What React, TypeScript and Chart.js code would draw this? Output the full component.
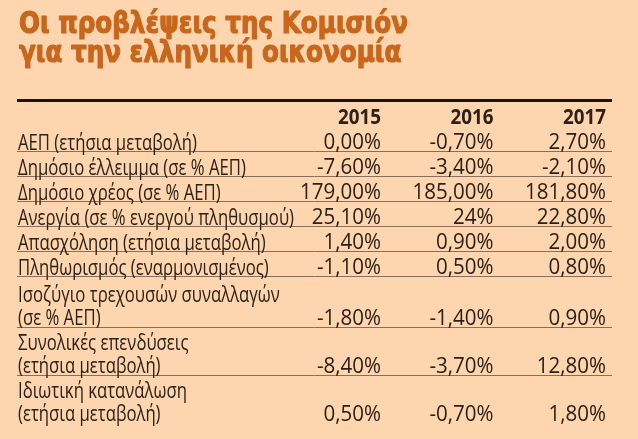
import React, { useEffect, useRef } from "react";
import { Chart, registerables } from "chart.js";
Chart.register(...registerables);

const titleLines = ["Οι προβλέψεις της Κομισιόν", "για την ελληνική οικονομία"];
const years = ["2015", "2016", "2017"];
const rowLabels: string[][] = [
  ["ΑΕΠ (ετήσια μεταβολή)"],
  ["Δημόσιο έλλειμμα (σε % ΑΕΠ)"],
  ["Δημόσιο χρέος (σε % ΑΕΠ)"],
  ["Ανεργία (σε % ενεργού πληθυσμού)"],
  ["Απασχόληση (ετήσια μεταβολή)"],
  ["Πληθωρισμός (εναρμονισμένος)"],
  ["Ισοζύγιο τρεχουσών συναλλαγών", "(σε % ΑΕΠ)"],
  ["Συνολικές επενδύσεις", "(ετήσια μεταβολή)"],
  ["Ιδιωτική κατανάλωση", "(ετήσια μεταβολή)"],
];
const values2015 = ["0,00%", "-7,60%", "179,00%", "25,10%", "1,40%", "-1,10%", "-1,80%", "-8,40%", "0,50%"];
const values2016 = ["-0,70%", "-3,40%", "185,00%", "24%", "0,90%", "0,50%", "-1,40%", "-3,70%", "-0,70%"];
const values2017 = ["2,70%", "-2,10%", "181,80%", "22,80%", "2,00%", "0,80%", "0,90%", "12,80%", "1,80%"];
const valueColumns = [values2015, values2016, values2017];

const BG = "#fdd5ae";
const TITLE_COLOR = "#c8671c";
const TEXT_COLOR = "#2b2118";
const RULE_COLOR = "#8a6e58";

// layout in "line units" on the y scale
function buildRows() {
  const rows: { lines: number[]; valueLine: number; sep: number | null }[] = [];
  let cursor = 1;
  let k = 0;
  rowLabels.forEach((lbl, i) => {
    const last = i === rowLabels.length - 1;
    if (lbl.length === 1) {
      rows.push({ lines: [cursor], valueLine: cursor, sep: last ? null : cursor + 0.45 });
      cursor += 1;
    } else {
      const a = cursor + 0.1 - 0.08 * k;
      const b = a + 0.92;
      rows.push({ lines: [a, b], valueLine: b, sep: last ? null : b + 0.46 });
      cursor += 2;
      k += 1;
    }
  });
  return rows;
}

export default function App() {
  const ref = useRef<HTMLCanvasElement | null>(null);
  useEffect(() => {
    document.body.style.margin = "0";
    const canvas = ref.current!;
    const rows = buildRows();
    const labelCol = -2.2267;
    const datasets = [
      {
        label: "labels",
        data: rows.map((r) => ({ x: labelCol, y: r.lines[0] })),
        pointRadius: 0,
      },
      ...years.map((yr, c) => ({
        label: yr,
        data: rows.map((r) => ({ x: c + 1, y: r.valueLine })),
        pointRadius: 0,
      })),
    ];
    const TY = 3.5; // text vertical offset

    const tablePlugin = {
      id: "tableDraw",
      beforeDraw(chart: any) {
        const ctx = chart.ctx;
        ctx.save();
        ctx.fillStyle = BG;
        ctx.fillRect(0, 0, chart.width, chart.height);
        ctx.restore();
      },
      afterDatasetsDraw(chart: any) {
        const ctx = chart.ctx as CanvasRenderingContext2D;
        const xs = chart.scales.x;
        const ys = chart.scales.y;
        const area = chart.chartArea;
        ctx.save();

        // title
        ctx.fillStyle = TITLE_COLOR;
        ctx.strokeStyle = TITLE_COLOR;
        ctx.lineWidth = 1.2;
        ctx.lineJoin = "round";
        ctx.font = 'bold 30px "DejaVu Sans", sans-serif';
        ctx.textBaseline = "alphabetic";
        ctx.textAlign = "left";
        const tw = ctx.measureText(titleLines[0]).width;
        const ts = 389 / tw;
        [33, 62].forEach((by, i) => {
          ctx.save();
          ctx.translate(area.left + 1, by);
          ctx.scale(ts, 1);
          ctx.fillText(titleLines[i], 0, 0);
          ctx.strokeText(titleLines[i], 0, 0);
          ctx.restore();
        });

        // thick rule
        ctx.fillStyle = "#1a1410";
        ctx.fillRect(area.left - 1, area.top - 1, area.right - area.left + 1, 3);

        // row separators
        ctx.strokeStyle = RULE_COLOR;
        ctx.lineWidth = 1;
        rows.forEach((r) => {
          if (r.sep === null) return;
          const y = Math.round(ys.getPixelForValue(r.sep)) + 0.5;
          ctx.beginPath();
          ctx.moveTo(area.left - 1, y);
          ctx.lineTo(area.right, y);
          ctx.stroke();
        });

        // labels
        ctx.fillStyle = TEXT_COLOR;
        ctx.textBaseline = "middle";
        ctx.font = '22px "Open Sans", sans-serif';
        const lw = ctx.measureText(rowLabels[3][0]).width;
        const ls = 276 / lw;
        const lx = xs.getPixelForValue(labelCol);
        rows.forEach((r, i) => {
          r.lines.forEach((ly, j) => {
            ctx.save();
            ctx.translate(lx, ys.getPixelForValue(ly) + TY);
            ctx.scale(ls, 1);
            ctx.textAlign = "left";
            ctx.fillText(rowLabels[i][j], 0, 0);
            ctx.restore();
          });
        });

        // header
        ctx.font = 'bold 21px "Open Sans", sans-serif';
        const hs = 43 / ctx.measureText("2015").width;
        years.forEach((yr, c) => {
          ctx.save();
          ctx.translate(xs.getPixelForValue(c + 1), ys.getPixelForValue(0) + TY);
          ctx.scale(hs, 1);
          ctx.textAlign = "right";
          ctx.fillText(yr, 0, 0);
          ctx.restore();
        });

        // values
        ctx.font = '21px "Open Sans", sans-serif';
        const ns = 81 / ctx.measureText("179,00%").width;
        for (let c = 0; c < years.length; c++) {
          const meta = chart.getDatasetMeta(c + 1);
          meta.data.forEach((pt: any, i: number) => {
            ctx.save();
            ctx.translate(pt.x, pt.y + TY);
            ctx.scale(ns, 1);
            ctx.textAlign = "right";
            ctx.fillText(valueColumns[c][i], 0, 0);
            ctx.restore();
          });
        }
        ctx.restore();
      },
    };

    const chart = new Chart(canvas, {
      type: "scatter",
      data: { datasets },
      options: {
        responsive: false,
        animation: false,
        events: [],
        layout: { padding: { top: 100, bottom: 5, left: 18, right: 26 } },
        plugins: { legend: { display: false }, tooltip: { enabled: false }, title: { display: false } },
        scales: {
          x: { type: "linear", display: false, min: -2.2267, max: 3.0533 },
          y: { type: "linear", display: false, reverse: true, min: -0.6, max: 12.76 },
        },
      },
      plugins: [tablePlugin],
    });
    return () => chart.destroy();
  }, []);
  return (
    <div style={{ position: "fixed", left: 0, top: 0, width: 638, height: 439, background: BG }}>
      <canvas ref={ref} width={638} height={439} style={{ display: "block" }} />
    </div>
  );
}
